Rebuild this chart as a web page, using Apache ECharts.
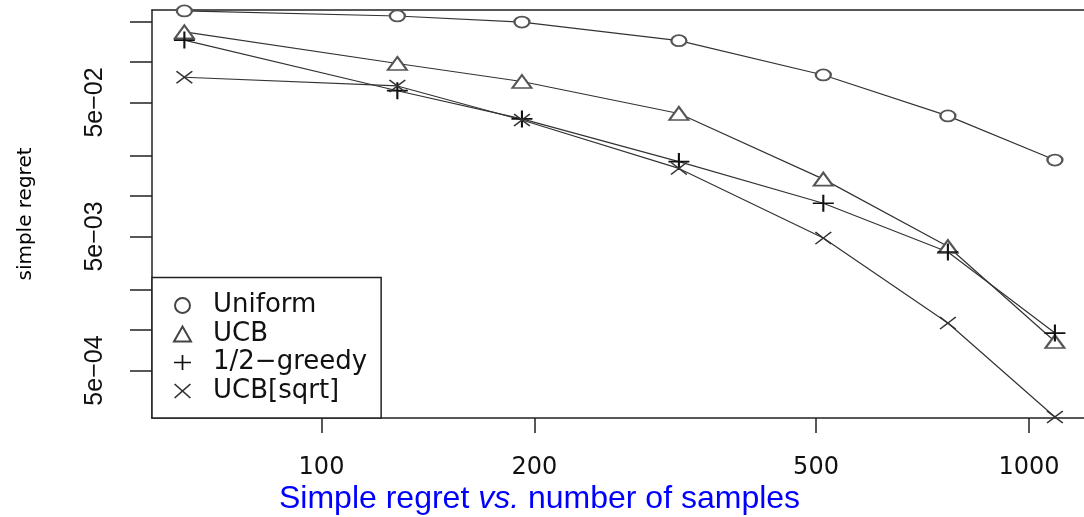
<!DOCTYPE html>
<html>
<head>
<meta charset="utf-8">
<script src="https://cdn.jsdelivr.net/npm/echarts@6/dist/echarts.min.js"></script>
<style>
	html, body { margin: 0; padding: 0; background: #fff; }
	#chart { width: 1084px; height: 517px; }
</style>
</head>
<body>
<div id="chart"></div>
<script>
// number of samples (x, log scale)
var samples = [64, 128, 192, 320, 512, 768, 1088];
// simple regret per method (y, log scale)
var uniform = [0.241, 0.221, 0.199, 0.1446, 0.0802, 0.0397, 0.0186];
var ucb = [0.168, 0.0977, 0.0717, 0.0414, 0.0134, 0.00421, 0.000823];
var greedy = [0.146, 0.0612, 0.0377, 0.0181, 0.00885, 0.00383, 0.000952];
var ucbSqrt = [0.0771, 0.0664, 0.037, 0.0161, 0.00487, 0.00113, 0.000225];

var xTicks = [100, 200, 500, 1000];
var yTicks = [0.2, 0.1, 0.05, 0.02, 0.01, 0.005, 0.002, 0.001, 0.0005];
var yLabelValues = [0.05, 0.005, 0.0005];
var yLabels = ['5e\u221202', '5e\u221203', '5e\u221204'];

var plusPath = 'path://M9,0H11V9H20V11H11V20H9V11H0V9H9Z';
var crossPath = 'path://M0,1.4L1.4,0L10,8.6L18.6,0L20,1.4L11.4,10L20,18.6L18.6,20L10,11.4L1.4,20L0,18.6L8.6,10Z';

function pairs(ys) {
	return samples.map(function (x, i) { return [x, ys[i]]; });
}

function yLabel(v) {
	var best = 0;
	for (var i = 1; i < yLabelValues.length; i++) {
		if (Math.abs(Math.log(v / yLabelValues[i])) < Math.abs(Math.log(v / yLabelValues[best]))) best = i;
	}
	return yLabels[best];
}

var chart = echarts.init(document.getElementById('chart'));
var lineStyle = { color: '#333', width: 1.2 };
var frame = { color: '#222', width: 1.5 };
var xMin = 57.6, xMax = 1196;

var option = {
	animation: false,
	title: {
		text: '{a|Simple regret }{b|vs.}{a| number of samples}',
		left: 274,
		top: 478,
		textStyle: {
			rich: {
				a: { fontFamily: 'Liberation Sans', fontSize: 32, fontWeight: 'normal', color: '#0000ff' },
				b: { fontFamily: 'Liberation Sans', fontSize: 32, fontWeight: 'normal', color: '#0000ff', fontStyle: 'italic' }
			}
		}
	},
	grid: {
		left: 152, top: 10, right: 0, bottom: 99,
		show: false
	},
	legend: {
		orient: 'vertical',
		left: 152,
		bottom: 99,
		backgroundColor: '#fff',
		borderColor: '#222',
		borderWidth: 1.5,
		borderRadius: 0,
		padding: [15, 14, 14, 21],
		itemGap: 2.5,
		itemWidth: 17,
		itemHeight: 15,
		symbolKeepAspect: false,
		textStyle: { fontFamily: 'DejaVu Sans', fontSize: 26, color: '#111', lineHeight: 26, padding: [0, 0, 0, 17] },
		data: [
			{ name: 'Uniform', icon: 'emptyCircle', itemStyle: { color: '#444', borderColor: '#444', borderWidth: 1.2 } },
			{ name: 'UCB', icon: 'emptyTriangle', itemStyle: { color: '#444', borderColor: '#444', borderWidth: 1.2 } },
			{ name: '1/2\u2212greedy', icon: plusPath },
			{ name: 'UCB[sqrt]', icon: crossPath }
		]
	},
	xAxis: [
		{
			type: 'log',
			logBase: 10,
			min: xMin,
			max: xMax,
			position: 'bottom',
			axisLine: { show: true, lineStyle: frame },
			splitLine: { show: false },
			axisTick: { show: true, length: 15, lineStyle: frame, customValues: xTicks },
			minorTick: { show: false },
			axisLabel: {
				customValues: xTicks,
				margin: 38,
				fontFamily: 'DejaVu Sans',
				fontSize: 24,
				color: '#111',
				formatter: function (v) { return String(Math.round(v)); }
			}
		},
		{
			// top edge of the plot frame
			type: 'log',
			logBase: 10,
			min: xMin,
			max: xMax,
			position: 'top',
			axisLine: { show: true, lineStyle: frame },
			splitLine: { show: false },
			axisTick: { show: false },
			minorTick: { show: false },
			axisLabel: { show: false }
		}
	],
	yAxis: {
		type: 'log',
		logBase: 10,
		min: 0.0002212,
		max: 0.2449,
		name: 'simple regret',
		nameLocation: 'middle',
		nameRotate: 90,
		nameGap: 116,
		nameTextStyle: { fontFamily: 'DejaVu Sans', fontSize: 20, color: '#000' },
		axisLine: { show: true, lineStyle: frame },
		splitLine: { show: false },
		axisTick: { show: true, length: 22, lineStyle: frame, customValues: yTicks },
		minorTick: { show: false },
		axisLabel: {
			customValues: yLabelValues,
			rotate: 90,
			margin: 44,
			fontFamily: 'Liberation Sans',
			fontSize: 25,
			color: '#111',
			formatter: yLabel
		}
	},
	series: [
		{
			name: 'Uniform', type: 'line', data: pairs(uniform),
			symbol: 'emptyCircle', symbolSize: [15, 11],
			lineStyle: lineStyle, itemStyle: { color: '#555', borderWidth: 1.2 }
		},
		{
			name: 'UCB', type: 'line', data: pairs(ucb),
			symbol: 'emptyTriangle', symbolSize: [19, 13],
			lineStyle: lineStyle, itemStyle: { color: '#555', borderWidth: 1.2 }
		},
		{
			name: '1/2\u2212greedy', type: 'line', data: pairs(greedy),
			symbol: plusPath, symbolSize: [21, 17],
			lineStyle: lineStyle, itemStyle: { color: '#111' }
		},
		{
			name: 'UCB[sqrt]', type: 'line', data: pairs(ucbSqrt),
			symbol: crossPath, symbolSize: [17, 13],
			lineStyle: lineStyle, itemStyle: { color: '#333' }
		}
	]
};
chart.setOption(option);
</script>
</body>
</html>
